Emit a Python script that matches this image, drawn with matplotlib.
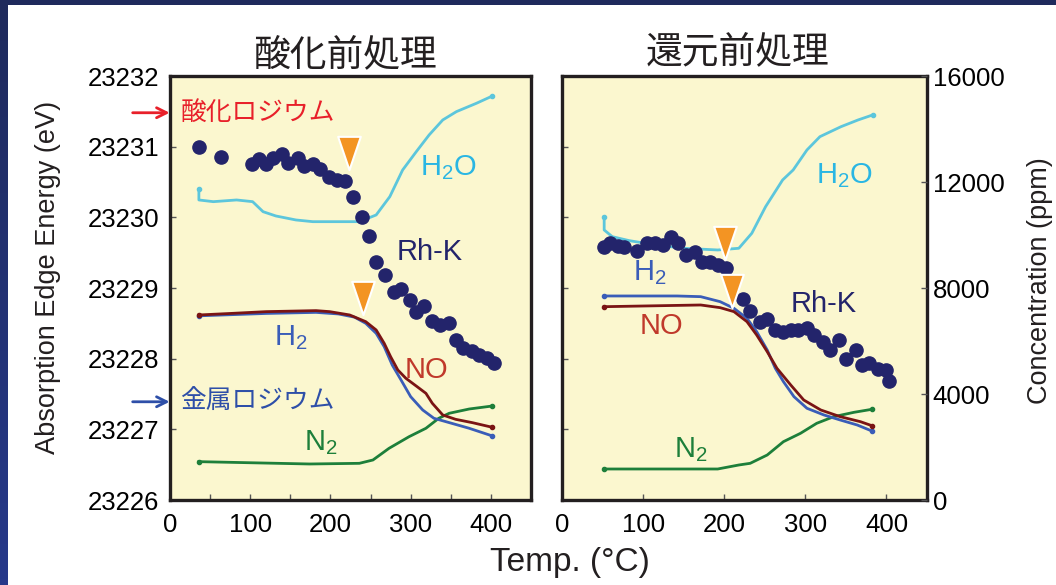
import numpy as np
import matplotlib
matplotlib.use("Agg")
import matplotlib.pyplot as plt
from matplotlib.path import Path

plt.rcParams['font.family'] = ['Liberation Sans', 'Noto Sans CJK JP', 'DejaVu Sans']
plt.rcParams['mathtext.default'] = 'regular'

# ---- left panel (oxidation pretreatment) ----
ox_rh_t = [36, 63, 102, 111, 120, 129, 139, 147, 159, 167, 178, 187, 198, 208, 218, 228, 239, 248,
           257, 268, 279, 288, 299, 307, 317, 326, 336, 348, 356, 365, 376, 385, 395, 404]
ox_rh_e = [23231.00, 23230.85, 23230.76, 23230.83, 23230.76, 23230.84, 23230.90, 23230.77, 23230.84,
           23230.73, 23230.76, 23230.69, 23230.57, 23230.53, 23230.51, 23230.29, 23230.01, 23229.73,
           23229.37, 23229.18, 23228.94, 23228.99, 23228.83, 23228.66, 23228.74, 23228.54, 23228.48,
           23228.51, 23228.26, 23228.15, 23228.11, 23228.05, 23228.01, 23227.94]

ox_h2o_t = [36, 36, 54, 83, 103, 116, 132, 157, 178, 203, 236, 257, 274, 290, 307, 323, 340, 357, 382, 402]
ox_h2o_c = [11726, 11322, 11258, 11322, 11258, 10880, 10718, 10567, 10503, 10503, 10503, 10756,
            11447, 12454, 13145, 13775, 14341, 14655, 14971, 15247]

ox_no_t = [36, 79, 120, 182, 199, 224, 244, 257, 267, 275, 284, 294, 308, 319, 327, 340, 356, 377, 402]
ox_no_c = [6982, 7045, 7108, 7146, 7108, 6982, 6730, 6416, 5913, 5409, 4906, 4593, 4277, 4026,
           3649, 3208, 3045, 2918, 2742]

ox_h2_t = [36, 120, 182, 210, 230, 244, 257, 267, 277, 288, 300, 315, 329, 344, 373, 402]
ox_h2_c = [6950, 7040, 7080, 7020, 6900, 6668, 6290, 5786, 5095, 4529, 3899, 3397, 3083, 2955,
           2706, 2415]

ox_n2_t = [36, 95, 174, 236, 253, 273, 298, 319, 335, 348, 373, 402]
ox_n2_c = [1447, 1409, 1359, 1384, 1510, 1950, 2389, 2706, 3083, 3272, 3434, 3548]

ox_tri_t = [223, 241]
ox_tri_e = [23230.91, 23228.86]

# ---- right panel (reduction pretreatment) ----
red_rh_t = [52, 59, 69, 77, 93, 105, 115, 124, 134, 143, 153, 164, 172, 183, 192, 202, 223, 232, 244,
            253, 263, 272, 282, 291, 302, 311, 322, 330, 341, 350, 362, 370, 379, 389, 400, 403]
red_rh_e = [23229.58, 23229.63, 23229.59, 23229.58, 23229.53, 23229.63, 23229.64, 23229.61, 23229.72,
            23229.64, 23229.47, 23229.51, 23229.37, 23229.37, 23229.33, 23229.29, 23228.84, 23228.67,
            23228.52, 23228.56, 23228.41, 23228.38, 23228.41, 23228.40, 23228.43, 23228.33, 23228.24,
            23228.12, 23228.26, 23227.99, 23228.12, 23227.91, 23227.94, 23227.85, 23227.84, 23227.68]

red_h2o_t = [52, 52, 62, 83, 116, 150, 192, 218, 234, 251, 272, 285, 302, 318, 344, 365, 383]
red_h2o_c = [10692, 10190, 9937, 9786, 9624, 9499, 9435, 9499, 10065, 11069, 12077, 12454, 13209,
             13711, 14088, 14341, 14530]

red_h2_t = [52, 142, 171, 195, 212, 228, 240, 253, 263, 273, 286, 302, 323, 343, 364, 382]
red_h2_c = [7699, 7699, 7673, 7484, 7233, 6856, 6353, 5661, 4970, 4466, 3899, 3461, 3208, 3019,
            2830, 2604]

red_no_t = [52, 171, 195, 212, 228, 240, 253, 265, 282, 298, 319, 343, 368, 382]
red_no_c = [7295, 7359, 7258, 7108, 6730, 6227, 5597, 4970, 4340, 3774, 3397, 3145, 2955, 2805]

red_n2_t = [52, 192, 218, 232, 253, 273, 294, 314, 335, 360, 382]
red_n2_c = [1170, 1170, 1321, 1384, 1698, 2201, 2516, 2894, 3145, 3309, 3422]

red_tri_t = [201, 210]
red_tri_e = [23229.64, 23228.96]

e_ticks = [23226, 23227, 23228, 23229, 23230, 23231, 23232]
c_ticks = [0, 4000, 8000, 12000, 16000]
t_ticks = [0, 100, 200, 300, 400]

C_RH = '#23246b'
C_H2O = '#5cc6dc'
C_H2 = '#3a5db8'
C_NO = '#7a1414'
C_N2 = '#1d7f3a'
C_TRI = '#f39423'
C_BG = '#fbf7cf'
C_SPINE = '#231f20'

# tall downward triangle for the onset markers
tri_marker = Path([(-0.68, 1), (0.68, 1), (0, -1), (-0.68, 1)],
                  [Path.MOVETO, Path.LINETO, Path.LINETO, Path.CLOSEPOLY])

fig = plt.figure(figsize=(10.56, 5.85), dpi=100)
fig.patch.set_facecolor('white')

# navy frame strips
top = fig.add_axes([0, 1 - 5 / 585, 1, 5 / 585])
top.set_facecolor('#1f2a5c')
top.set_xticks([]); top.set_yticks([])
for s in top.spines.values():
    s.set_visible(False)
side = fig.add_axes([0, 0, 8 / 1056, 1])
side.imshow(np.linspace(0, 1, 100).reshape(-1, 1), aspect='auto',
            cmap=matplotlib.colors.LinearSegmentedColormap.from_list('f', ['#1f2a5c', '#27398a']))
side.set_xticks([]); side.set_yticks([])
for s in side.spines.values():
    s.set_visible(False)


def panel(rect, rh_t, rh_e, h2o_t, h2o_c, h2_t, h2_c, no_t, no_c, n2_t, n2_c, tri_t, tri_e, minor):
    ax = fig.add_axes(rect)
    ax.set_facecolor(C_BG)
    ax.set_xlim(0, 450)
    ax.set_ylim(23226, 23232)
    ax.set_yticks(e_ticks)
    ax.set_xticks(t_ticks)
    if minor:
        ax.set_xticks([50, 150, 250, 350], minor=True)
    ax.tick_params(direction='in', length=4, width=1, color='#555555', labelsize=18.5, pad=8)
    ax.tick_params(which='minor', direction='in', length=4, width=1, color='#555555')
    ax.tick_params(axis='x', pad=9)
    for s in ax.spines.values():
        s.set_linewidth(2.4)
        s.set_color(C_SPINE)

    ax2 = ax.twinx()
    ax2.set_ylim(0, 16000)
    ax2.set_yticks(c_ticks)
    ax2.tick_params(direction='in', length=4, width=1, color='#555555', labelsize=18.5, pad=4)
    for s in ax2.spines.values():
        s.set_visible(False)

    kw = dict(lw=2.0, marker='o', ms=3, markevery=[0, -1], zorder=2)
    ax2.plot(h2o_t, h2o_c, color=C_H2O, **kw)
    ax2.plot(n2_t, n2_c, color=C_N2, **kw)
    ax2.plot(h2_t, h2_c, color=C_H2, **kw)
    ax2.plot(no_t, no_c, color=C_NO, **kw)

    ax3 = ax.twinx()
    ax3.set_ylim(23226, 23232)
    ax3.axis('off')
    ax3.plot(rh_t, rh_e, 'o', color=C_RH, ms=9.5, zorder=3)
    ax3.plot(tri_t, tri_e, marker=tri_marker, ls='none', color=C_TRI, ms=24,
             mec='white', mew=1.5, zorder=4)
    return ax, ax2, ax3


axL, axL2, axL3 = panel([170 / 1056, 85 / 585, 361 / 1056, 424 / 585],
                        ox_rh_t, ox_rh_e, ox_h2o_t, ox_h2o_c, ox_h2_t, ox_h2_c,
                        ox_no_t, ox_no_c, ox_n2_t, ox_n2_c, ox_tri_t, ox_tri_e, True)
axL2.set_yticklabels([])
axL2.tick_params(right=False)

axR, axR2, axR3 = panel([562 / 1056, 85 / 585, 365 / 1056, 424 / 585],
                        red_rh_t, red_rh_e, red_h2o_t, red_h2o_c, red_h2_t, red_h2_c,
                        red_no_t, red_no_c, red_n2_t, red_n2_c, red_tri_t, red_tri_e, False)
axR.set_yticklabels([])

# series labels (left edge, baseline)
lab = dict(fontsize=21, ha='left', va='baseline')
axL2.text(312, 12266, 'H$_2$O', color='#2ab6e3', **lab)
axL2.text(282, 9058, 'Rh-K', color=C_RH, **lab)
axL2.text(130, 5850, 'H$_2$', color=C_H2, **lab)
axL2.text(292, 4604, 'NO', color='#c0392b', **lab)
axL2.text(167, 1887, 'N$_2$', color=C_N2, **lab)

axR2.text(313, 11964, 'H$_2$O', color='#2ab6e3', **lab)
axR2.text(282, 7100, 'Rh-K', color=C_RH, **lab)
axR2.text(87, 8303, 'H$_2$', color=C_H2, **lab)
axR2.text(96, 6265, 'NO', color='#c0392b', **lab)
axR2.text(138, 1623, 'N$_2$', color=C_N2, **lab)

# oxide / metal reference arrows
for e, txt, col in [(23231.48, '酸化ロジウム', '#e8202a'), (23227.39, '金属ロジウム', '#2e4fa8')]:
    axL3.annotate('', xy=(3, e), xytext=(-50, e), xycoords='data',
                  arrowprops=dict(arrowstyle='->', color=col, lw=2, mutation_scale=18),
                  annotation_clip=False)
    axL3.text(13, e, txt, color=col, fontsize=18.5, va='center', ha='left',
              family=['Noto Sans CJK JP'])

fig.text(345 / 1056, 1 - 55 / 585, '酸化前処理', fontsize=26.5, ha='center', va='center',
         color='#231f20', family=['Noto Sans CJK JP'])
fig.text(738 / 1056, 1 - 52 / 585, '還元前処理', fontsize=26.5, ha='center', va='center',
         color='#231f20', family=['Noto Sans CJK JP'])

fig.text(48 / 1056, 1 - 277 / 585, 'Absorption Edge Energy (eV)', fontsize=19.5,
         rotation=90, ha='center', va='center', color='#231f20')
fig.text(1040 / 1056, 1 - 281 / 585, 'Concentration (ppm)', fontsize=19.5,
         rotation=90, ha='center', va='center', color='#231f20')
fig.text(570 / 1056, 1 - 563 / 585, 'Temp. (°C)', fontsize=24, ha='center', va='center',
         color='#231f20')

fig.savefig('out.png', dpi=100)
